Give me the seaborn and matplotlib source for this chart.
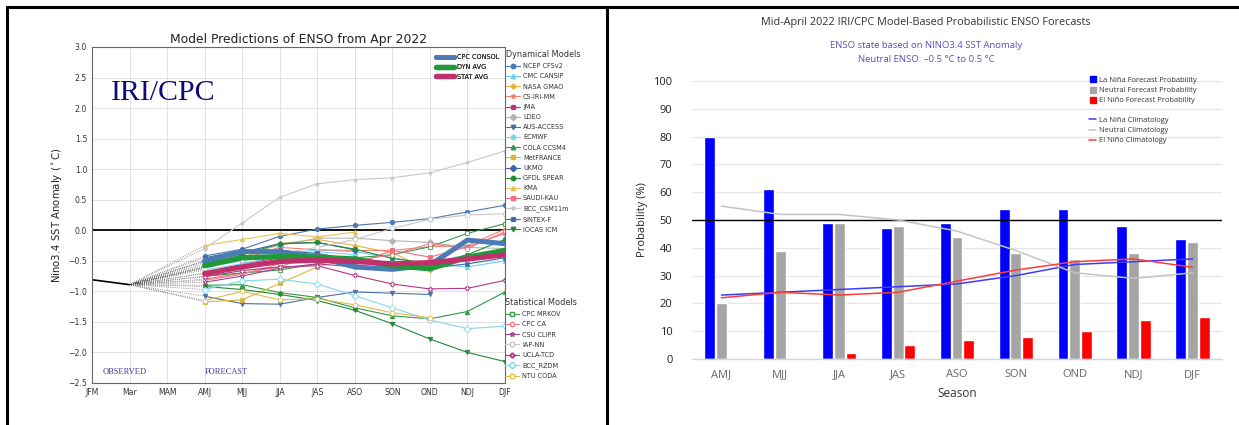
import numpy as np
import pandas as pd
import matplotlib
matplotlib.use("Agg")
import matplotlib.pyplot as plt
from matplotlib.lines import Line2D
import seaborn as sns

# ---- left panel: model plume ----
months = ["JFM", "Mar", "MAM", "AMJ", "MJJ", "JJA", "JAS", "ASO", "SON", "OND", "NDJ", "DJF"]
observed = [-0.81, -0.89]

# dynamical models (values from AMJ on)
ncep_cfsv2 = [-0.42, -0.31, -0.10, 0.02, 0.08, 0.13, 0.19, 0.30, 0.41]
cmc_cansip = [-0.60, -0.50, -0.40, -0.32, -0.35, -0.45, -0.55, -0.60, -0.50]
nasa_gmao = [-0.60, -0.45, -0.22, -0.15, -0.25, -0.37, -0.65, -0.45, -0.30]
cs_iri_mm = [-0.62, -0.47, -0.28, -0.32, -0.33, -0.33, -0.27, -0.25, 0.02]
jma = [-0.70, -0.55, -0.45, -0.45, -0.55]
ldeo = [-0.50, -0.38, -0.25, -0.13, -0.13, -0.17, -0.20, -0.28, -0.30]
aus_access = [-1.08, -1.20, -1.21, -1.10, -1.01, -1.03, -1.05]
ecmwf = [-0.65, -0.55, -0.42, -0.35, -0.40]
cola_ccsm4 = [-0.90, -0.89, -1.02, -1.10, -1.27, -1.40, -1.45, -1.33, -1.01]
metfrance = [-1.17, -1.14, -0.87, -0.60, -0.45]
ukmo = [-0.52, -0.36, -0.22, -0.20, -0.32]
gfdl_spear = [-0.55, -0.40, -0.22, -0.20, -0.31, -0.46, -0.55, -0.40, -0.15]
kma = [-0.25, -0.15, -0.05, -0.11, -0.03]
saudi_kau = [-0.80, -0.70, -0.60, -0.38, -0.55, -0.33, -0.44, -0.27, -0.05]
bcc_csm11m = [-0.30, 0.12, 0.54, 0.76, 0.83, 0.86, 0.94, 1.11, 1.30]
sintex_f = [-0.45, -0.33, -0.33, -0.38, -0.48, -0.58, -0.62, -0.55, -0.45]
iocas_icm = [-0.92, -0.97, -1.05, -1.15, -1.31, -1.53, -1.78, -2.00, -2.15]

# statistical models
cpc_mrkov = [-0.75, -0.70, -0.65, -0.55, -0.45, -0.40, -0.27, -0.05, 0.11]
cpc_ca = [-0.82, -0.72, -0.55, -0.42, -0.50, -0.40, -0.22, -0.30, -0.02]
csu_clipr = [-0.85, -0.75, -0.62, -0.55, -0.60]
iap_nn = [-0.62, -0.48, -0.38, -0.28, -0.15, 0.03, 0.18, 0.25, 0.27]
ucla_tcd = [-0.76, -0.66, -0.60, -0.58, -0.74, -0.88, -0.96, -0.95, -0.82]
bcc_rzdm = [-0.97, -0.83, -0.80, -0.88, -1.07, -1.27, -1.47, -1.61, -1.57]
ntu_coda = [-1.15, -1.00, -1.14, -1.12, -1.22, -1.35, -1.43]

# averages
cpc_consol = [-0.50, -0.35, -0.35, -0.44, -0.60, -0.64, -0.57, -0.16, -0.22]
dyn_avg = [-0.58, -0.45, -0.43, -0.44, -0.47, -0.58, -0.63, -0.44, -0.33]
stat_avg = [-0.71, -0.60, -0.51, -0.49, -0.51, -0.55, -0.53, -0.47, -0.40]

dyn_models = [
    ("NCEP CFSv2", ncep_cfsv2, "#4a7ab5", "o"),
    ("CMC CANSIP", cmc_cansip, "#72cfe8", "^"),
    ("NASA GMAO", nasa_gmao, "#e3b33c", "P"),
    ("CS-IRI-MM", cs_iri_mm, "#f0826e", "*"),
    ("JMA", jma, "#b8327a", "X"),
    ("LDEO", ldeo, "#b3b3b3", "D"),
    ("AUS-ACCESS", aus_access, "#4a6fa5", "v"),
    ("ECMWF", ecmwf, "#7fd3f2", "o"),
    ("COLA CCSM4", cola_ccsm4, "#2f9a45", "^"),
    ("MetFRANCE", metfrance, "#d9b83a", "s"),
    ("UKMO", ukmo, "#3b67a8", "D"),
    ("GFDL SPEAR", gfdl_spear, "#238b3c", "o"),
    ("KMA", kma, "#e4c45c", "^"),
    ("SAUDI-KAU", saudi_kau, "#ef6f82", "s"),
    ("BCC_CSM11m", bcc_csm11m, "#c9c9c9", "*"),
    ("SINTEX-F", sintex_f, "#40699e", "X"),
    ("IOCAS ICM", iocas_icm, "#25873a", "v"),
]
stat_models = [
    ("CPC MRKOV", cpc_mrkov, "#3a9a4a", "s"),
    ("CPC CA", cpc_ca, "#f07b8a", "p"),
    ("CSU CLIPR", csu_clipr, "#a2438e", "*"),
    ("IAP-NN", iap_nn, "#c8c8c8", "o"),
    ("UCLA-TCD", ucla_tcd, "#b23584", "P"),
    ("BCC_RZDM", bcc_rzdm, "#83d5f2", "D"),
    ("NTU CODA", ntu_coda, "#e2bc45", "o"),
]
averages = [
    ("CPC CONSOL", cpc_consol, "#4a7bb7", 3.6),
    ("DYN AVG", dyn_avg, "#1f9a3a", 3.8),
    ("STAT AVG", stat_avg, "#c0306a", 3.8),
]

# ---- right panel: probabilities ----
seasons = ["AMJ", "MJJ", "JJA", "JAS", "ASO", "SON", "OND", "NDJ", "DJF"]
la_nina = [80, 61, 49, 47, 49, 54, 54, 48, 43]
neutral = [20, 39, 49, 48, 44, 38, 36, 38, 42]
el_nino = [0, 0, 2, 5, 7, 8, 10, 14, 15]
la_nina_clim = [23, 24, 25, 26, 27, 30, 34, 35, 36]
neutral_clim = [55, 52, 52, 50, 46, 39, 31, 29, 31]
el_nino_clim = [22, 24, 23, 24, 28, 32, 35, 36, 33]

sns.set_style("white")
plt.rcParams["font.family"] = ["DejaVu Sans"]

W, H = 1239, 425
fig = plt.figure(figsize=(W / 100, H / 100), dpi=100)

# panel frames
fig.add_artist(Line2D([7 / W, 1], [1 - 7 / H] * 2, color="black", lw=2.2, transform=fig.transFigure))
fig.add_artist(Line2D([7 / W] * 2, [0, 1 - 7 / H], color="black", lw=2.2, transform=fig.transFigure))
fig.add_artist(Line2D([607 / W] * 2, [0, 1 - 7 / H], color="black", lw=2.2, transform=fig.transFigure))

# ---------- left ----------
ax1 = fig.add_axes([92 / W, 1 - 383 / H, (505 - 92) / W, (383 - 47) / H])
fc_x = np.arange(3, 12)

for name, vals, col, mk in dyn_models + stat_models:
    sns.lineplot(x=[1, 3], y=[observed[-1], vals[0]], color="#555555", linewidth=0.5,
                 linestyle=":", ax=ax1)
for name, vals, col, lw in averages:
    sns.lineplot(x=[1, 3], y=[observed[-1], vals[0]], color="#555555", linewidth=0.5,
                 linestyle=":", ax=ax1)

for name, vals, col, mk in dyn_models:
    sns.lineplot(x=fc_x[:len(vals)], y=vals, color=col, linewidth=0.8, marker=mk,
                 markersize=3.2, mec=col, mew=0.6, ax=ax1)
for name, vals, col, mk in stat_models:
    sns.lineplot(x=fc_x[:len(vals)], y=vals, color=col, linewidth=0.8, marker=mk,
                 markersize=3.4, mec=col, mfc="white", mew=0.6, ax=ax1)
for name, vals, col, lw in averages:
    sns.lineplot(x=fc_x, y=vals, color=col, linewidth=lw, ax=ax1)

sns.lineplot(x=[0, 1], y=observed, color="black", linewidth=1.2, ax=ax1)
ax1.axhline(0, color="black", lw=1.3, zorder=1.5)

ax1.set_xlim(0, 11)
ax1.set_ylim(-2.5, 3.0)
ax1.set_xticks(range(12))
ax1.set_xticklabels(months)
ax1.set_yticks(np.arange(-2.5, 3.01, 0.5))
ax1.set_yticklabels([f"{v:.1f}".replace("-", "\u2212") for v in np.arange(-2.5, 3.01, 0.5)])
ax1.grid(True, color="#dcdcdc", lw=0.6)
ax1.set_axisbelow(True)
ax1.tick_params(labelsize=5.6, length=2, width=0.5, colors="#333333", pad=1.5)
for s in ax1.spines.values():
    s.set_color("#666666")
    s.set_linewidth(0.8)
ax1.set_title("Model Predictions of ENSO from Apr 2022", fontsize=8.9, pad=3, color="#222222")
ax1.set_ylabel(r"Nino3.4 SST Anomaly ($^\circ$C)", fontsize=7.3, labelpad=3, color="#222222")

ax1.text(0.5, 2.25, "IRI/CPC", family="Liberation Serif", fontsize=21.5, color="#0c0c78",
         va="center", ha="left")
ax1.text(0.88, -2.32, "OBSERVED", family="Liberation Serif", fontsize=6, color="#3a3aa0",
         ha="center", va="center")
ax1.text(3.57, -2.32, "FORECAST", family="Liberation Serif", fontsize=6, color="#3a3aa0",
         ha="center", va="center")

avg_handles = [Line2D([], [], color=c, lw=lw) for _, _, c, lw in averages]
leg0 = ax1.legend(avg_handles, [a[0] for a in averages], loc="upper right",
                  bbox_to_anchor=(1.0, 0.995), frameon=False, fontsize=4.7,
                  handlelength=2.8, handletextpad=0.5, labelspacing=0.6, borderpad=0.3)
ax1.add_artist(leg0)

dyn_handles = [Line2D([], [], color=c, marker=m, markersize=3.2, mec=c, lw=0.8)
               for _, _, c, m in dyn_models]
leg1 = fig.legend(dyn_handles, [d[0] for d in dyn_models], loc="upper left",
                  bbox_to_anchor=(506 / W, 1 - 50 / H), frameon=False, fontsize=4.7,
                  title="Dynamical Models", title_fontsize=5.9, alignment="left",
                  handlelength=2.1, handletextpad=0.5, labelspacing=0.64, borderpad=0,
                  borderaxespad=0)
stat_handles = [Line2D([], [], color=c, marker=m, markersize=3.4, mec=c, mfc="white", lw=0.8)
                for _, _, c, m in stat_models]
leg2 = fig.legend(stat_handles, [d[0] for d in stat_models], loc="upper left",
                  bbox_to_anchor=(505 / W, 1 - 298 / H), frameon=False, fontsize=4.7,
                  title="Statistical Models", title_fontsize=5.9, alignment="left",
                  handlelength=2.1, handletextpad=0.5, labelspacing=0.64, borderpad=0,
                  borderaxespad=0)
for lg in (leg1, leg2):
    for t in lg.get_texts():
        t.set_color("#333333")
    lg.get_title().set_color("#333333")

# ---------- right ----------
ax2 = fig.add_axes([692 / W, 1 - 359 / H, (1222 - 692) / W, (359 - 81) / H])
bars = pd.DataFrame({
    "Season": seasons * 3,
    "Prob": la_nina + neutral + el_nino,
    "Type": ["La Niña"] * 9 + ["Neutral"] * 9 + ["El Niño"] * 9,
})
bar_cols = ["#0000ff", "#a5a5a5", "#ff0000"]
sns.barplot(data=bars, x="Season", y="Prob", hue="Type", palette=bar_cols, width=0.6,
            gap=0.08, saturation=1, legend=False, ax=ax2, zorder=2)

clim_cols = ["#3b3bff", "#c4c4c4", "#ff3b3b"]
for vals, col in zip([la_nina_clim, neutral_clim, el_nino_clim], clim_cols):
    sns.lineplot(x=seasons, y=vals, sort=False, color=col, linewidth=1.1, ax=ax2, zorder=3)

ax2.set_xlim(-0.5, 8.5)
ax2.set_ylim(0, 100)
ax2.set_yticks(range(0, 101, 10))
ax2.grid(axis="y", color="#e6e6e6", lw=0.9)
ax2.set_axisbelow(True)
ax2.axhline(50, color="black", lw=1.0, zorder=2.5)
for k in ["left", "right", "top"]:
    ax2.spines[k].set_visible(False)
ax2.spines["bottom"].set_color("#ccd6eb")
ax2.spines["bottom"].set_linewidth(1)
ax2.tick_params(axis="y", length=0, labelsize=8, colors="#222222", pad=14)
ax2.tick_params(axis="x", length=0, labelsize=8, colors="#666666", pad=7)
for t in ax2.get_xticklabels() + ax2.get_yticklabels():
    t.set_family("Open Sans")
ax2.set_xlabel("Season", family="Open Sans", fontsize=8.5, color="#333333", labelpad=5)
ax2.set_ylabel("Probability (%)", family="Open Sans", fontsize=8, color="#222222", labelpad=4)

fig.text(926 / W, 1 - 23 / H, "Mid-April 2022 IRI/CPC Model-Based Probabilistic ENSO Forecasts",
         family="Open Sans", fontsize=7.8, color="#333333", ha="center", va="center")
fig.text(926 / W, 1 - 45 / H, "ENSO state based on NINO3.4 SST Anomaly",
         family="Open Sans", fontsize=6.8, color="#5b4fc0", ha="center", va="center")
fig.text(926 / W, 1 - 60 / H, "Neutral ENSO: \u20130.5 \u00b0C to 0.5 \u00b0C",
         family="Open Sans", fontsize=6.8, color="#5b4fc0", ha="center", va="center")

bar_handles = [Line2D([], [], color=c, marker="s", markersize=5, lw=0) for c in bar_cols]
leg3 = ax2.legend(bar_handles, ["La Niña Forecast Probability", "Neutral Forecast Probability",
                                "El Niño Forecast Probability"],
                  loc="upper left", bbox_to_anchor=(1085 / W, 1 - 73 / H),
                  bbox_transform=fig.transFigure, frameon=False,
                  handlelength=1.0, handletextpad=0.4, labelspacing=0.4, borderpad=0,
                  prop={"family": "Open Sans", "size": 5.4})
ax2.add_artist(leg3)
line_handles = [Line2D([], [], color=c, lw=1.1) for c in clim_cols]
leg4 = ax2.legend(line_handles, ["La Niña Climatology", "Neutral Climatology", "El Niño Climatology"],
                  loc="upper left", bbox_to_anchor=(1085 / W, 1 - 113 / H),
                  bbox_transform=fig.transFigure, frameon=False,
                  handlelength=1.0, handletextpad=0.4, labelspacing=0.4, borderpad=0,
                  prop={"family": "Open Sans", "size": 5.4})
for lg in (leg3, leg4):
    for t in lg.get_texts():
        t.set_color("#333333")

fig.savefig("out.png", dpi=100)
